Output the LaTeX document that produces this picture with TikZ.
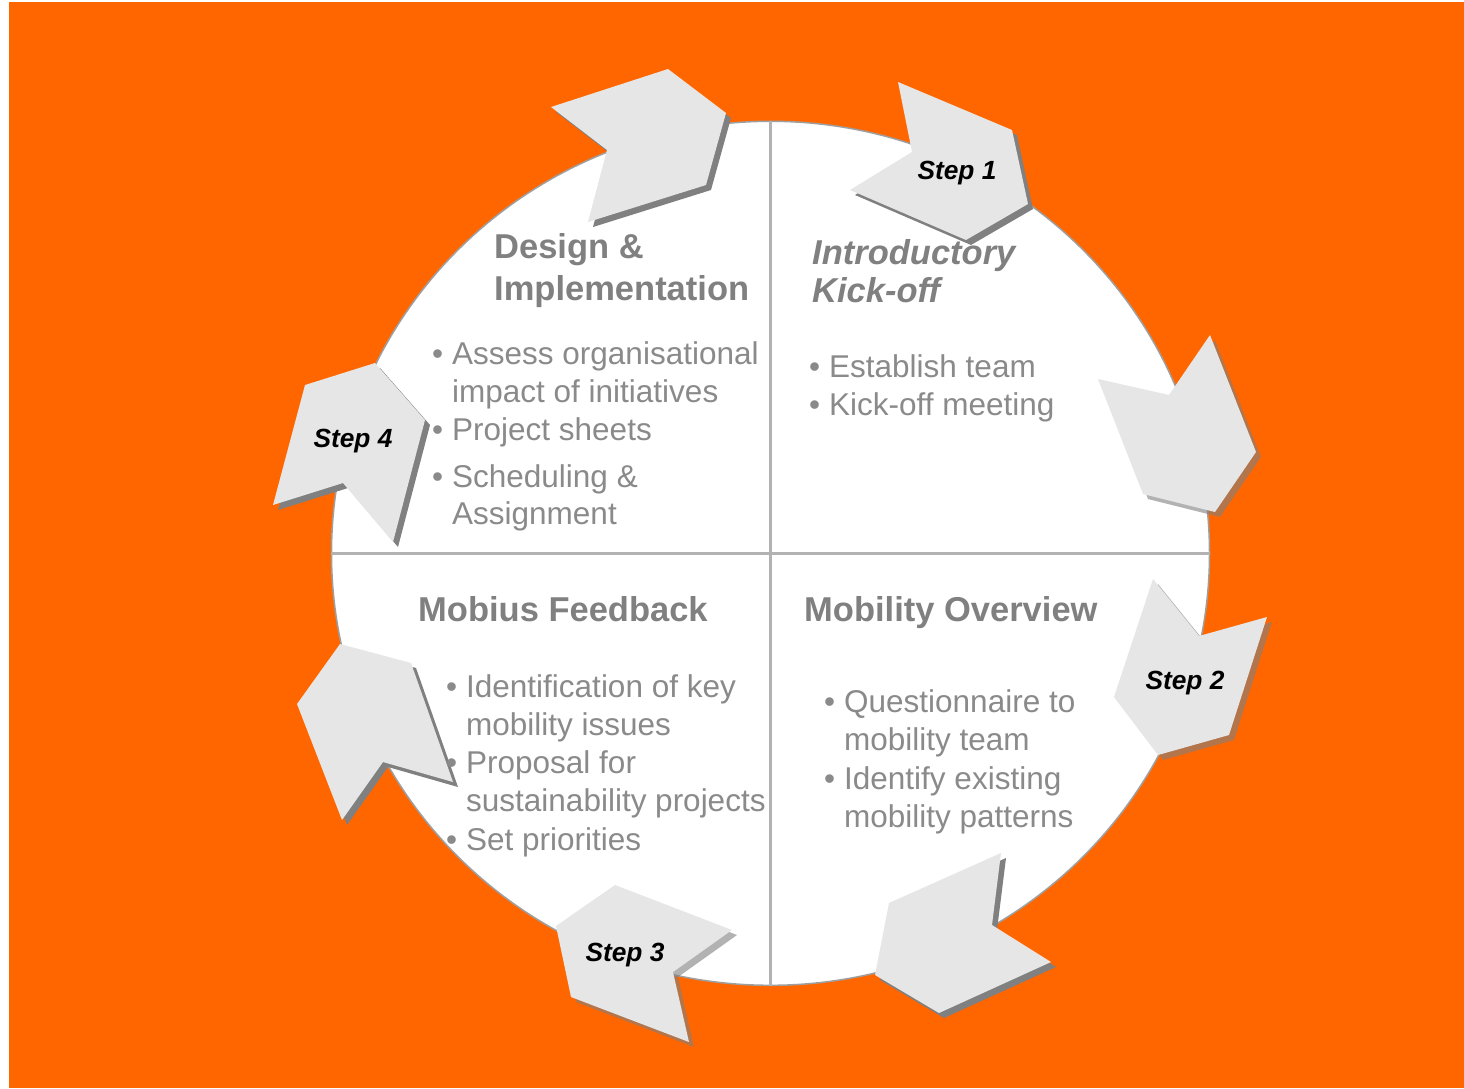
\documentclass[tikz,border=0pt]{standalone}
\usepackage{fontspec}
\setmainfont{Liberation Sans}
\usetikzlibrary{shapes.geometric}
\definecolor{bgorange}{RGB}{255,102,0}
\definecolor{chevgray}{RGB}{230,230,230}
\definecolor{shadegray}{RGB}{128,128,128}
\definecolor{headgray}{RGB}{128,128,128}
\definecolor{itemgray}{RGB}{138,138,138}
\newcommand{\bul}{\llap{\textbullet\hspace{9pt}}}
% one chevron: shadow first, then the face
\newcommand{\chevron}[2][chevshadow]{\fill[#1] #2; \fill[chev] #2;}

\begin{document}
\begin{tikzpicture}[x=1pt, y=-1pt,
        ring/.style={ellipse, draw=gray!75, line width=1.5pt, fill=white,
            minimum width=878pt, minimum height=864pt, inner sep=0pt},
        divider/.style={draw=gray!60, line width=3pt},
        chev/.style={fill=chevgray},
        chevshadow/.style={fill=shadegray, shift={(5,5)}},
        chevglass/.style={chevshadow, opacity=0.6},
        headline/.style={anchor=base west, inner sep=0pt, text=headgray,
            font=\fontsize{34.5}{41}\selectfont\bfseries},
        bulletline/.style={anchor=base west, inner sep=0pt, text=itemgray,
            font=\fontsize{31.5}{38}\selectfont},
        steplabel/.style={anchor=base, inner sep=0pt, font=\fontsize{26.3}{30}\selectfont\bfseries\itshape}]
        \useasboundingbox (0,0) rectangle (1464,1088);
        % Background
        \fill[bgorange] (9,2) rectangle (1464,1088);

        % Circle and quadrants
        \node[ring] (ring) at (770.5,553.3) {};
        \draw[divider] (ring.north) -- (ring.south);
        \draw[divider] (ring.west) -- (ring.east);

        % Chevrons, clockwise from the top
        \chevron{(551,107) -- (668,69) -- (726,113) -- (706,185) -- (588,222) -- (607,150) -- cycle}
        \chevron{(898,82) -- (1012,130) -- (1028,204) -- (966,240) -- (850,190) -- (912,152) -- cycle}
        \chevron[chevglass]{(1098,379) -- (1169,395) -- (1210,335) -- (1256,452) -- (1215,512) -- (1143,494) -- cycle}
        \chevron[chevglass]{(1153,579) -- (1199,636) -- (1267,617) -- (1229,735) -- (1158,755) -- (1114,697) -- cycle}
        \chevron{(1001,853) -- (992,925) -- (1051,962) -- (939,1013) -- (875,975) -- (889,903) -- cycle}
        \chevron[chevglass]{(615,885) -- (732,930) -- (673,972) -- (689,1042) -- (571,997) -- (556,926) -- cycle}
        \chevron{(340,644) -- (411,663) -- (453,782) -- (383,762) -- (342,820) -- (297,704) -- cycle}
        \chevron{(375,363) -- (425,420) -- (393,542) -- (343,483) -- (273,505) -- (305,385) -- cycle}

        \node[steplabel] (step1) at (957,179) {Step 1};
        \node[steplabel] (step2) at (1185,689) {Step 2};
        \node[steplabel] (step3) at (625,961) {Step 3};
        \node[steplabel] (step4) at (353,447) {Step 4};

        % Top left: Design & Implementation
        \node[headline] (designA) at (494,258) {Design \&};
        \node[headline] (designB) at (494,300) {Implementation};
        \node[bulletline] (designC) at (452,364) {\bul Assess organisational};
        \node[bulletline] (designD) at (452,402) {impact of initiatives};
        \node[bulletline] (designE) at (452,440) {\bul Project sheets};
        \node[bulletline] (designF) at (452,487) {\bul Scheduling \&};
        \node[bulletline] (designG) at (452,524) {Assignment};

        % Top right: Introductory Kick-off
        \node[headline, font=\fontsize{34.5}{41}\selectfont\bfseries\itshape] (kickA) at (812,264) {Introductory};
        \node[headline, font=\fontsize{34.5}{41}\selectfont\bfseries\itshape] (kickB) at (812,302) {Kick-off};
        \node[bulletline] (kickC) at (829,377) {\bul Establish team};
        \node[bulletline] (kickD) at (829,415) {\bul Kick-off meeting};

        % Bottom left: Mobius Feedback
        \node[headline] (mobiusA) at (418,621) {Mobius Feedback};
        \node[bulletline] (mobiusB) at (466,697) {\bul Identification of key};
        \node[bulletline] (mobiusC) at (466,735) {mobility issues};
        \node[bulletline] (mobiusD) at (466,773) {\bul Proposal for};
        \node[bulletline] (mobiusE) at (466,811) {sustainability projects};
        \node[bulletline] (mobiusF) at (466,850) {\bul Set priorities};

        % Bottom right: Mobility Overview
        \node[headline] (overviewA) at (804,621) {Mobility Overview};
        \node[bulletline] (overviewB) at (844,712) {\bul Questionnaire to};
        \node[bulletline] (overviewC) at (844,750) {mobility team};
        \node[bulletline] (overviewD) at (844,789) {\bul Identify existing};
        \node[bulletline] (overviewE) at (844,827) {mobility patterns};
    \end{tikzpicture}
\end{document}
